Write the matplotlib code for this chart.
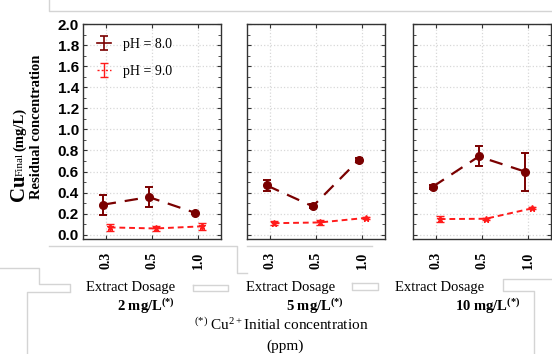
import matplotlib
matplotlib.use("Agg")
import numpy as np
import matplotlib.pyplot as plt
from matplotlib.lines import Line2D
from matplotlib.ticker import MultipleLocator

plt.rcParams['mathtext.fontset'] = 'custom'
plt.rcParams['mathtext.rm'] = 'Liberation Serif'
plt.rcParams['mathtext.it'] = 'Liberation Serif:italic'
plt.rcParams['mathtext.bf'] = 'Liberation Serif:bold'

SERIF = 'Liberation Serif'
SANS = 'Liberation Sans'

# extract dosage categories
doses = ['0.3', '0.5', '1.0']
initial_conc = ['2 mg/L', '5 mg/L', '10 mg/L']

# Cu residual concentration (mg/L), pH 8.0
ph8_2 = [0.285, 0.358, 0.21]
ph8_5 = [0.468, 0.27, 0.71]
ph8_10 = [0.456, 0.743, 0.60]
err8_2 = [0.095, 0.097, 0.01]
err8_5 = [0.048, 0.02, 0.02]
err8_10 = [0.02, 0.095, 0.18]

# pH 9.0
ph9_2 = [0.07, 0.06, 0.08]
ph9_5 = [0.11, 0.117, 0.16]
ph9_10 = [0.149, 0.152, 0.25]
err9_2 = [0.03, 0.02, 0.03]
err9_5 = [0.02, 0.025, 0.01]
err9_10 = [0.03, 0.01, 0.01]

ph8 = [ph8_2, ph8_5, ph8_10]
ph9 = [ph9_2, ph9_5, ph9_10]
err8 = [err8_2, err8_5, err8_10]
err9 = [err9_2, err9_5, err9_10]

W, H = 552, 354
fig = plt.figure(figsize=(W / 100, H / 100), dpi=100)


def fx(px):
    return px / W


def fy(py):
    return 1 - py / H


# faint frame lines left over from the composed figure
gray_lines = [
    ([49, 49, 552], [0, 11, 11]),
    ([49, 237, 237, 247], [246, 246, 273, 273]),
    ([247, 372], [246, 246]),
    ([0, 39, 39, 70, 70], [268, 268, 284, 284, 291]),
    ([70, 27, 27], [292, 292, 354]),
    ([193, 228, 228, 193, 193], [285, 285, 291, 291, 285]),
    ([352, 378, 378, 352, 352], [283, 283, 290, 290, 283]),
    ([552, 503, 503, 534, 534], [279, 279, 291, 291, 354]),
]
for xs, ys in gray_lines:
    fig.add_artist(Line2D([fx(v) for v in xs], [fy(v) for v in ys],
                          color='#d4d4d4', lw=1.0, transform=fig.transFigure))

lefts = [83, 247, 413]
x = list(range(len(doses)))
dark = '#7a0000'
red = '#ff1a1a'

for i, left in enumerate(lefts):
    ax = fig.add_axes([fx(left), fy(239), fx(138), fy(24) - fy(239)])
    x8 = [v - 0.07 for v in x]
    x9 = [v + 0.08 for v in x]
    ax.errorbar(x8, ph8[i], yerr=err8[i], color=dark, lw=1.6, marker='o', ms=5.5,
                capsize=3, capthick=1.4, elinewidth=1.4, dashes=(6, 4), zorder=3)
    ax.errorbar(x9, ph9[i], yerr=err9[i], color=red, lw=1.4, marker='*', ms=5,
                capsize=3, capthick=1.0, elinewidth=1.0, dashes=(3, 2), zorder=3)
    ax.set_xlim(-0.5, 2.5)
    ax.set_ylim(-0.04, 2.0)
    ax.set_xticks(x)
    ax.set_xticklabels(doses, rotation=90, fontfamily=SERIF, fontweight='bold',
                       fontsize=10)
    ax.yaxis.set_major_locator(MultipleLocator(0.2))
    ax.yaxis.set_minor_locator(MultipleLocator(0.1))
    ax.tick_params(axis='both', which='both', direction='in', top=True, right=True,
                   color='#333333')
    ax.tick_params(axis='both', which='major', length=3)
    ax.tick_params(axis='y', which='minor', length=2)
    ax.tick_params(axis='x', which='major', pad=9)
    ax.grid(True, which='major', color='#d8d8d8', linestyle=':', lw=0.9)
    for sp in ax.spines.values():
        sp.set_color('#333333')
        sp.set_linewidth(1.0)
    if i == 0:
        for lab in ax.get_yticklabels():
            lab.set_fontfamily(SANS)
            lab.set_fontweight('bold')
            lab.set_fontsize(11)
        ax.tick_params(axis='y', pad=3)
        # legend keys show only the error bar, no marker
        h8 = ax.errorbar([np.nan], [np.nan], yerr=[np.nan], color=dark, lw=1.2,
                         capsize=3, capthick=1.2, elinewidth=1.2, label='pH = 8.0')
        h9 = ax.errorbar([np.nan], [np.nan], yerr=[np.nan], color=red, lw=1.0,
                         capsize=3, capthick=1.0, elinewidth=1.0, dashes=(1.5, 1.5),
                         label='pH = 9.0')
        ax.legend(handles=[h8, h9], loc='upper left', frameon=False,
                  prop={'family': SERIF, 'size': 10},
                  handlelength=1.0, handletextpad=0.9, labelspacing=1.0,
                  borderaxespad=0.6, borderpad=0.4)
    else:
        ax.set_yticklabels([])

# group labels under each panel
ext_x = [131, 291, 440]
conc_x = [146, 315, 488]
for i in range(3):
    fig.text(fx(ext_x[i]), fy(287), 'Extract Dosage', ha='center', va='center',
             fontfamily=SERIF, fontsize=10.5)
    fig.text(fx(conc_x[i]), fy(306), initial_conc[i] + r'$^{\mathbf{(*)}}$',
             ha='center', va='center', fontfamily=SERIF, fontweight='bold',
             fontsize=10.5)

fig.text(fx(281), fy(325), r'$^{(*)}$ Cu$^{2+}$Initial concentration',
         ha='center', va='center', fontfamily=SERIF, fontsize=11)
fig.text(fx(285), fy(346), '(ppm)', ha='center', va='center',
         fontfamily=SERIF, fontsize=11)

# y axis label
fig.text(fx(19), fy(201), 'Cu', rotation=90, ha='center', va='bottom',
         fontfamily=SERIF, fontweight='bold', fontsize=15)
fig.text(fx(25), fy(176), 'Final', rotation=90, ha='right', va='bottom',
         fontfamily=SERIF, fontsize=8)
fig.text(fx(20), fy(151), '(mg/L)', rotation=90, ha='center', va='bottom',
         fontfamily=SERIF, fontweight='bold', fontsize=10.5)
fig.text(fx(37), fy(127), 'Residual concentration', rotation=90, ha='center',
         va='center', fontfamily=SERIF, fontweight='bold', fontsize=10.5)

fig.savefig('out.png', dpi=100)
